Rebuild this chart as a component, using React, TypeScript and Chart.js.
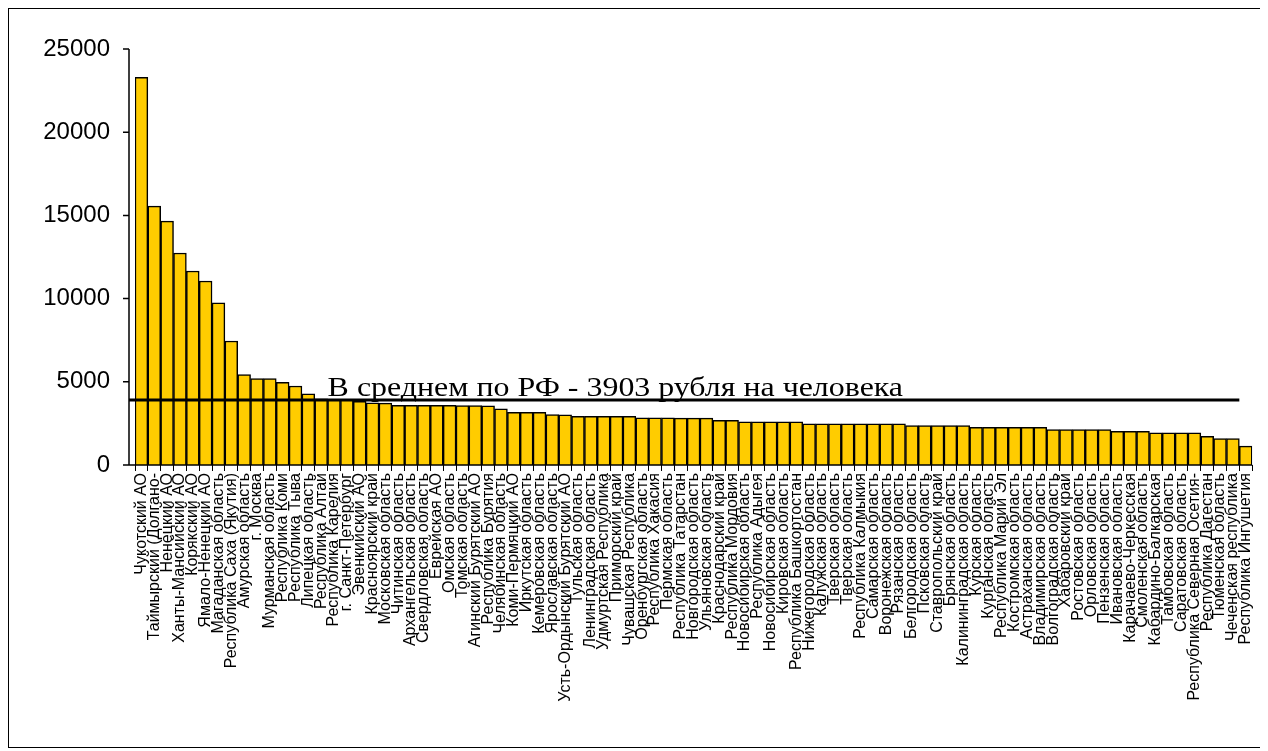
import { useEffect, useRef } from 'react';
import { Chart, registerables } from 'chart.js';

Chart.register(...registerables);

// Regions ordered by per-capita amount, roubles per person
const regions: string[] = [
  'Чукотский АО',
  'Таймырский (Долгано-',
  'Ненецкий АО',
  'Ханты-Мансийский АО',
  'Корякский АО',
  'Ямало-Ненецкий АО',
  'Магаданская область',
  'Республика Саха (Якутия)',
  'Амурская область',
  'г. Москва',
  'Мурманская область',
  'Республика Коми',
  'Республика Тыва',
  'Липецкая область',
  'Республика Алтай',
  'Республика Карелия',
  'г. Санкт-Петербург',
  'Эвенкийский АО',
  'Красноярский край',
  'Московская область',
  'Читинская область',
  'Архангельская область',
  'Свердловская область',
  'Еврейская АО',
  'Омская область',
  'Томская область',
  'Агинский Бурятский АО',
  'Республика Бурятия',
  'Челябинская область',
  'Коми-Пермяцкий АО',
  'Иркутская область',
  'Кемеровская область',
  'Ярославская область',
  'Усть-Ордынский Бурятский АО',
  'Тульская область',
  'Ленинградская область',
  'Удмуртская Республика',
  'Приморский край',
  'Чувашская Республика',
  'Оренбургская область',
  'Республика Хакасия',
  'Пермская область',
  'Республика Татарстан',
  'Новгородская область',
  'Ульяновская область',
  'Краснодарский край',
  'Республика Мордовия',
  'Новосибирская область',
  'Республика Адыгея',
  'Новосибирская область',
  'Кировская область',
  'Республика Башкортостан',
  'Нижегородская область',
  'Калужская область',
  'Тверская область',
  'Тверская область',
  'Республика Калмыкия',
  'Самарская область',
  'Воронежская область',
  'Рязанская область',
  'Белгородская область',
  'Псковская область',
  'Ставропольский край',
  'Брянская область',
  'Калининградская область',
  'Курская область',
  'Курганская область',
  'Республика Марий Эл',
  'Костромская область',
  'Астраханская область',
  'Владимирская область',
  'Волгоградская область',
  'Хабаровский край',
  'Ростовская область',
  'Орловская область',
  'Пензенская область',
  'Ивановская область',
  'Карачаево-Черкесская',
  'Смоленская область',
  'Кабардино-Балкарская',
  'Тамбовская область',
  'Саратовская область',
  'Республика Северная Осетия-',
  'Республика Дагестан',
  'Тюменская область',
  'Чеченская республика',
  'Республика Ингушетия',
];

const perCapita: number[] = [
  23300, 15560, 14660, 12740, 11660, 11060, 9740, 7450, 5430, 5190,
  5190, 4970, 4750, 4270, 3970, 3950, 3940, 3830, 3730, 3720,
  3590, 3590, 3590, 3580, 3580, 3570, 3570, 3560, 3370, 3170,
  3170, 3160, 3030, 3020, 2930, 2930, 2930, 2920, 2920, 2830,
  2830, 2830, 2820, 2820, 2820, 2690, 2690, 2590, 2590, 2590,
  2590, 2590, 2470, 2470, 2470, 2470, 2470, 2470, 2470, 2470,
  2370, 2370, 2370, 2370, 2370, 2270, 2270, 2270, 2270, 2270,
  2270, 2130, 2130, 2130, 2130, 2130, 2030, 2030, 2030, 1930,
  1930, 1930, 1930, 1730, 1590, 1590, 1130,
];

const yTicks: number[] = [0, 5000, 10000, 15000, 20000, 25000];

const averageRF = 3903;
const averageLabel = 'В среднем по РФ - 3903 рубля на человека';
// category where the average caption begins
const averageLabelStart = 15;

// Axis lines, y tick marks and the national-average line with its caption
const overlayPlugin = {
  id: 'overlay',
  afterDatasetsDraw(chart: any) {
    const { ctx, chartArea, scales } = chart;
    const x = scales.x;
    const y = scales.y;
    const axisX = chartArea.left - 6;
    const half = (x.getPixelForValue(1) - x.getPixelForValue(0)) / 2;

    ctx.save();
    ctx.strokeStyle = '#000';
    ctx.lineWidth = 1.5;
    ctx.beginPath();
    ctx.moveTo(axisX, y.getPixelForValue(yTicks[yTicks.length - 1]));
    ctx.lineTo(axisX, chartArea.bottom);
    ctx.lineTo(chartArea.right, chartArea.bottom);
    for (const v of yTicks) {
      const py = y.getPixelForValue(v);
      ctx.moveTo(axisX - 6, py);
      ctx.lineTo(axisX, py);
    }
    ctx.stroke();

    // national average
    const ay = y.getPixelForValue(averageRF);
    const endX = x.getPixelForValue(regions.length - 2) + half;
    ctx.lineWidth = 3;
    ctx.beginPath();
    ctx.moveTo(axisX, ay);
    ctx.lineTo(endX, ay);
    ctx.stroke();

    ctx.fillStyle = '#000';
    ctx.font = '28px "Liberation Serif", "Times New Roman", serif';
    ctx.textAlign = 'left';
    ctx.textBaseline = 'alphabetic';
    const tx = x.getPixelForValue(averageLabelStart) - half;
    ctx.translate(tx, ay - 4);
    ctx.scale(1.14, 1);
    ctx.fillText(averageLabel, 0, 0);
    ctx.restore();
  },
};

export default function App() {
  const canvasRef = useRef<HTMLCanvasElement>(null);

  useEffect(() => {
    const canvas = canvasRef.current;
    if (!canvas) return;
    const chart = new Chart(canvas, {
      type: 'bar',
      data: {
        labels: regions,
        datasets: [
          {
            data: perCapita,
            backgroundColor: '#FFCC00',
            borderColor: '#000',
            borderWidth: 1.5,
            barPercentage: 1,
            categoryPercentage: 1,
          },
        ],
      },
      options: {
        responsive: false,
        animation: false,
        events: [],
        layout: { padding: { top: 40, right: 7, bottom: 0, left: 0 } },
        plugins: {
          legend: { display: false },
          tooltip: { enabled: false },
        },
        scales: {
          x: {
            grid: {
              display: true,
              drawOnChartArea: false,
              offset: true,
              tickLength: 6,
              color: '#000',
              lineWidth: 1,
            },
            border: { display: false },
            ticks: {
              autoSkip: false,
              minRotation: 90,
              maxRotation: 90,
              padding: 2,
              color: '#000',
              font: { family: '"Liberation Sans", Arial, sans-serif', size: 16 },
            },
            afterFit: (scale: any) => {
              scale.height = 282;
            },
          },
          y: {
            min: 0,
            max: 25000,
            afterBuildTicks: (scale: any) => {
              scale.ticks = yTicks.map((v) => ({ value: v }));
            },
            grid: { display: false },
            border: { display: false },
            ticks: {
              padding: 17,
              color: '#000',
              font: { family: '"Liberation Sans", Arial, sans-serif', size: 24 },
              callback: (value: any) => String(value),
            },
            afterFit: (scale: any) => {
              scale.width = 126;
            },
          },
        },
      },
      plugins: [overlayPlugin],
    });
    return () => chart.destroy();
  }, []);

  return (
    <div
      style={{
        position: 'relative',
        width: 1260,
        height: 740,
        border: '1px solid #000',
        boxSizing: 'border-box',
        background: '#fff',
      }}
    >
      <canvas ref={canvasRef} width={1258} height={738} style={{ display: 'block' }} />
    </div>
  );
}
